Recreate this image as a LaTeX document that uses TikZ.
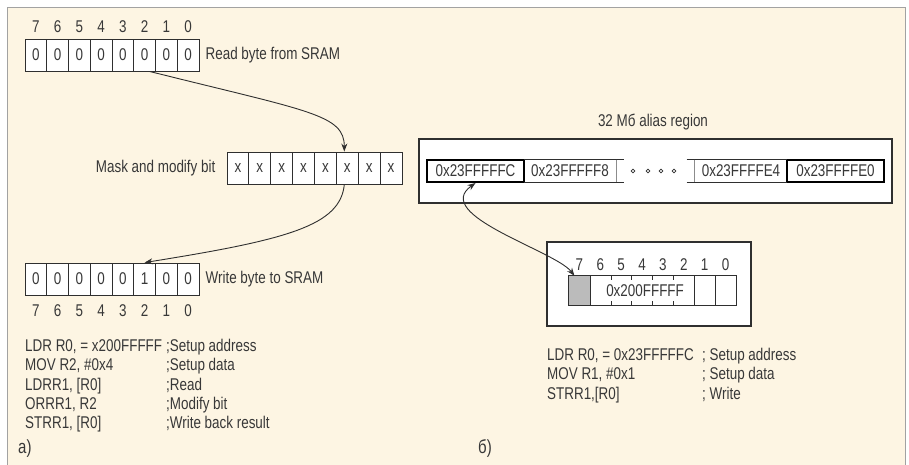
\documentclass[tikz,border=0pt]{standalone}
\usepackage{fontspec}
\setmainfont[FakeStretch=0.79]{Liberation Sans}
\usetikzlibrary{arrows.meta,positioning}
\definecolor{bbInk}{HTML}{2F2F2F}
\definecolor{bbText}{HTML}{383838}
\definecolor{bbPaper}{HTML}{FDF5E3}
\definecolor{bbFrame}{HTML}{A2A2A2}
\definecolor{bbShade}{HTML}{BBBBBB}
\definecolor{bbEdge}{HTML}{8C8C8C}
\newcommand\bbsize{\fontsize{17}{19.25}\selectfont}
\tikzset{
  bb cell/.style={draw=bbInk, fill=white, line width=.9pt, inner sep=0pt,
    minimum height=32pt, text=bbText, font=\bbsize},
  bb alias/.style={bb cell, minimum height=22pt, minimum width=92pt},
  bb alias end/.style={bb alias, line width=2pt, draw=black, minimum width=97pt},
  bb box/.style={draw=bbInk, fill=white, line width=1.1pt},
  bb text/.style={inner sep=0pt, text=bbText, font=\bbsize},
  bb digit/.style={bb text},
  bb panel/.style={inner sep=0pt, text=bbText, font=\fontsize{19}{20}\selectfont},
  bb arrow/.style={draw=bbInk, line width=.9pt,
    -{Stealth[length=8pt,width=6pt]}},
  bb both/.style={bb arrow, {Stealth[length=8pt,width=6pt]}-{Stealth[length=8pt,width=6pt]}}
}

\begin{document}
\begin{tikzpicture}[x=1pt,y=-1pt]
  \useasboundingbox (0,0) rectangle (909,465);
  \fill[bbPaper] (7.5,7.5) rectangle (905.5,466);
  \draw[bbFrame, line width=1.6pt] (7.5,466) -- (7.5,7.5) -- (905.5,7.5) -- (905.5,466);

  % read, mask and write rows
  \foreach \b in {0,...,7} {
    \node[bb cell, minimum width=21.75pt] (rd\b) at ({25+21.75*(7.5-\b)},55) {0};
    \node[bb digit, above=6pt of rd\b] (rdbit\b) {\b};
    \node[bb cell, minimum width=21.875pt] (mk\b) at ({227+21.875*(7.5-\b)},168) {x};
    \node[bb cell, minimum width=21.75pt] (wr\b) at ({25+21.75*(7.5-\b)},279)
      {\ifnum\b=2 1\else 0\fi};
    \node[bb digit, below=9pt of wr\b] (wrbit\b) {\b};
  }
  \node[bb text, right=6pt of rd0] (rdnote) {Read byte from SRAM};
  \node[bb text, left=11pt of mk7] (mknote) {Mask and modify bit};
  \node[bb text, right=6pt of wr0] (wrnote) {Write byte to SRAM};

  \draw[bb arrow] ([xshift=5pt]rd2.south) .. controls +(160,40) and +(0,-37) .. ([xshift=-3pt]mk2.north);
  \draw[bb arrow] ([xshift=-3pt]mk2.south) .. controls +(-4,41) and +(144,-23) .. (wr2.north);

  \foreach \y/\cmd/\note in {351/{LDR R0, = x200FFFFF}/{;Setup address},
      370/{MOV R2, \#0x4}/{;Setup data}, 390/{LDRR1, [R0]}/{;Read},
      409/{ORRR1, R2}/{;Modify bit}, 428/{STRR1, [R0]}/{;Write back result}} {
    \node[bb text, anchor=base west] (lcmd\y) at (25,\y) {\cmd};
    \node[bb text, anchor=base west] (lnote\y) at (166,\y) {\note};
  }
  \node[bb panel, anchor=base west] (panelA) at (18,453) {а)};

  % alias region
  \node[bb text] (aliastitle) at (653,122) {32 Мб alias region};
  \draw[bb box] (419,139) rectangle (892,203);
  \node[bb alias end] (al1) at (475.5,171) {0x23FFFFFC};
  \node[bb alias, draw=none, fill=none] (al2) at (570,171) {0x23FFFFF8};
  \node[bb alias, draw=none, fill=none] (al3) at (741,171) {0x23FFFFE4};
  \node[bb alias end] (al4) at (835.5,171) {0x23FFFFE0};
  \draw[bbInk, line width=.9pt] (al2.north west) -- ([xshift=8pt]al2.north east)
    (al2.south west) -- ([xshift=8pt]al2.south east);
  \draw[bbInk, line width=.9pt] ([xshift=-8pt]al3.north west) -- (al3.north east)
    ([xshift=-8pt]al3.south west) -- (al3.south east);
  \draw[bbEdge, line width=.9pt] (al2.north east) -- (al2.south east)
    (al3.north west) -- (al3.south west);
  \foreach \x in {633,648,661,674}
    \draw[bbInk, line width=.7pt] (\x,171) circle (1.9pt);

  % bit-band word
  \draw[bb box] (547,242) rectangle (751,326);
  \foreach \b in {0,...,7} {
    \node[inner sep=0pt, minimum width=20.875pt, minimum height=29pt] (bw\b)
      at ({569+20.875*(7.5-\b)},290.5) {};
    \node[bb digit, above=5pt of bw\b] (bwbit\b) {\b};
  }
  \draw[bbInk, line width=.9pt, fill=white] (bw7.north west) rectangle (bw0.south east);
  \draw[bbInk, line width=.9pt, fill=bbShade] (bw7.north west) rectangle (bw7.south east);
  \foreach \b in {2,1}
    \draw[bbInk, line width=.9pt] (bw\b.north east) -- (bw\b.south east);
  \foreach \b in {6,5,4,3}
    \draw[bbInk, line width=.9pt] (bw\b.north east) -- ++(0,4)
      (bw\b.south east) -- ++(0,-4);
  \node[bb text] (bwword) at ([xshift=3pt]bw4.center) {0x200FFFFF};

  \draw[bb both] (al1.south) .. controls +(-45,32) and +(-19,-25) .. ([xshift=-5pt]bw7.north);

  \foreach \y/\cmd/\note in {360/{LDR R0, = 0x23FFFFFC}/{; Setup address},
      379/{MOV R1, \#0x1}/{; Setup data}, 399/{STRR1,[R0]}/{; Write}} {
    \node[bb text, anchor=base west] (rcmd\y) at (547,\y) {\cmd};
    \node[bb text, anchor=base west] (rnote\y) at (702,\y) {\note};
  }
  \node[bb panel, anchor=base west] (panelB) at (478,453) {б)};
\end{tikzpicture}
\end{document}
